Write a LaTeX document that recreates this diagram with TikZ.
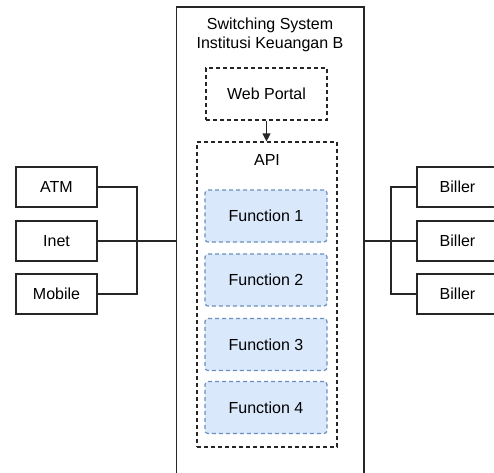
\documentclass[tikz,border=0pt]{standalone}
\usepackage{fontspec}
\setmainfont{Liberation Sans}
\usetikzlibrary{arrows.meta}
\begin{document}
\begin{tikzpicture}[x=1pt,y=-1pt,
  txt/.style={font=\fontsize{16}{19.5}\selectfont},
  plainbox/.style={draw=black!85,line width=1.2pt,rectangle,inner sep=0pt,txt},
  dashbox/.style={draw=black!85,line width=1.2pt,dash pattern=on 4pt off 3pt,rectangle,inner sep=0pt,txt},
  funcbox/.style={draw=funcborder,fill=funcfill,line width=1.2pt,dash pattern=on 4pt off 3pt,rounded corners=3pt,rectangle,inner sep=0pt,minimum width=122pt,minimum height=52pt,txt},
  sidebox/.style={plainbox,minimum width=81pt,minimum height=40pt},
  wire/.style={draw=black!85,line width=1.2pt}
]
\definecolor{funcfill}{HTML}{DAE8FC}
\definecolor{funcborder}{HTML}{6C8EBF}
\useasboundingbox (0,0) rectangle (494,472);
\clip (0,0) rectangle (494,472);

% switching system frame
\node[plainbox,minimum width=187.5pt,minimum height=483pt] (sys) at (270.25,248.5) {};
\node[txt,align=center] (title) at (270,35) {Switching System\\Institusi Keuangan B};

% web portal and API container
\node[dashbox,minimum width=121pt,minimum height=52pt] (web) at (266.5,94) {Web Portal};
\node[dashbox,minimum width=140pt,minimum height=305pt] (api) at (267,294.5) {};
\node[txt] (apilabel) at (267,160) {API};
\draw[wire,-{Triangle[length=8pt,width=8pt]}] (web.south) -- (web.south |- api.north);

% functions
\node[funcbox] (f1) at (266,216) {Function 1};
\node[funcbox] (f2) at (266,280) {Function 2};
\node[funcbox] (f3) at (266,344.5) {Function 3};
\node[funcbox] (f4) at (266,407.5) {Function 4};

% channels
\node[sidebox] (atm) at (56.5,187) {ATM};
\node[sidebox] (inet) at (56.5,241) {Inet};
\node[sidebox] (mobile) at (56.5,294) {Mobile};
\coordinate (jl) at (137,241);
\draw[wire] (atm.east) -| (jl);
\draw[wire] (mobile.east) -| (jl);
\draw[wire] (inet.east) -- (inet.east -| sys.west);

% billers
\node[sidebox] (b1) at (457.5,187) {Biller};
\node[sidebox] (b2) at (457.5,241) {Biller};
\node[sidebox] (b3) at (457.5,294) {Biller};
\coordinate (jr) at (391,241);
\draw[wire] (b1.west) -| (jr);
\draw[wire] (b3.west) -| (jr);
\draw[wire] (b2.west) -- (b2.west -| sys.east);
\end{tikzpicture}
\end{document}
